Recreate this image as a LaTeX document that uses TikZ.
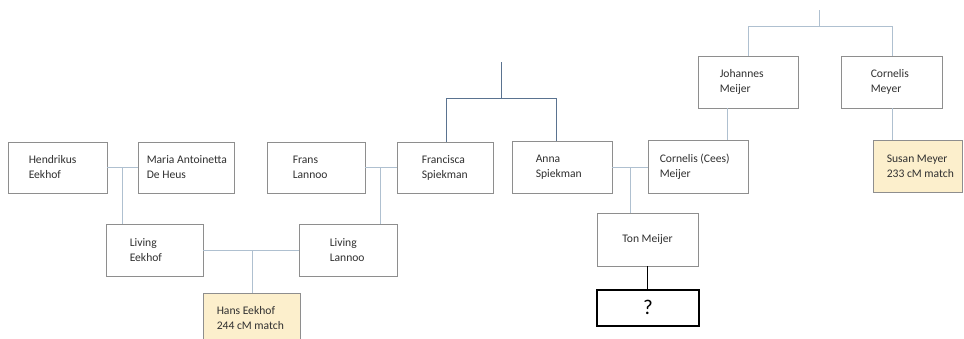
\documentclass[tikz,border=0pt]{standalone}
\usepackage{fontspec}
\setmainfont{Carlito}
\definecolor{boxline}{HTML}{8E8E8E}
\definecolor{conn}{HTML}{AFC0D0}
\definecolor{conndark}{HTML}{5A7390}
\definecolor{matchfill}{HTML}{FCEFCC}
\definecolor{txt}{HTML}{303030}
\tikzset{
  pbox/.style={draw=boxline, line width=0.9pt, fill=white, rectangle, inner sep=0pt},
  mbox/.style={pbox, fill=matchfill},
  qbox/.style={draw=black, line width=1.1pt, fill=white, rectangle, inner sep=0pt},
  ptext/.style={anchor=west, align=left, inner sep=0pt, text=txt, font=\fontsize{11.6}{15}\selectfont},
  link/.style={draw=conn, line width=0.9pt},
  linkdark/.style={draw=conndark, line width=0.9pt},
  linkblack/.style={draw=black, line width=1pt}
}
\newcommand{\pbox}[8]{%
  % #1 name, #2 style, #3 x1, #4 y1, #5 x2, #6 y2, #7 offset, #8 text
  \node[#2, minimum width={(#5-#3)*1pt}, minimum height={(#6-#4)*1pt}] (#1) at ({(#3+#5)/2},{(#4+#6)/2}) {};
  \node[ptext] (#1t) at ([xshift=#7pt]#1.west) {#8};
}
\begin{document}
\begin{tikzpicture}[x=1pt,y=-1pt]
\clip (0,0) rectangle (964,338);
\fill[white] (0,0) rectangle (964,338);

% connector joints
\coordinate (heJ) at (122,167);
\coordinate (leJ) at (252,250);
\coordinate (flJ) at (380,167);
\coordinate (asJ) at (630,167);
\coordinate (spTop) at (501,62);
\coordinate (spMid) at (501,98);
\coordinate (spL) at (446,98);
\coordinate (spR) at (556,98);
\coordinate (jmTop) at (819,10);
\coordinate (jmMid) at (819,26);
\coordinate (jmL) at (748,26);
\coordinate (jmR) at (892,26);
\coordinate (jmB) at (727,108);
\coordinate (cmB) at (892,108);
\coordinate (tmB) at (647,266);

\pbox{he}{pbox}{8}{142}{107}{193}{21}{Hendrikus\\Eekhof}
\pbox{ma}{pbox}{138}{142}{234}{193}{9}{Maria Antoinetta\\De Heus}
\pbox{fl}{pbox}{267}{142}{365}{193}{26}{Frans\\Lannoo}
\pbox{fs}{pbox}{397}{142}{493}{193}{25}{Francisca\\Spiekman}
\pbox{as}{pbox}{512}{141}{612}{193}{24}{Anna\\Spiekman}
\pbox{cc}{pbox}{648}{140}{748}{193}{12}{Cornelis (Cees)\\Meijer}
\pbox{jm}{pbox}{698}{56}{798}{108}{22}{Johannes\\Meijer}
\pbox{cm}{pbox}{841}{56}{942}{108}{30}{Cornelis\\Meyer}
\pbox{sm}{mbox}{873}{140}{962}{192}{14}{Susan Meyer\\233 cM match}
\pbox{le}{pbox}{106}{224}{203}{276}{24}{Living\\Eekhof}
\pbox{ll}{pbox}{299}{224}{397}{276}{31}{Living\\Lannoo}
\pbox{hs}{mbox}{203}{293}{300}{343}{14}{Hans Eekhof\\244 cM match}
\node[pbox, minimum width=101pt, minimum height=53pt] (tm) at (647.5,239.5) {};
\node[ptext, anchor=center] (tmt) at (tm.center) {Ton Meijer};
\node[qbox, minimum width=102pt, minimum height=36pt] (q) at (648,308) {};
\node[anchor=center, inner sep=0pt, text=black, font=\fontsize{21}{21}\selectfont] (qt) at ([yshift=1pt]q.center) {?};

% links
\draw[link] (he.east |- heJ) -- (ma.west |- heJ);
\draw[link] (heJ) -- (heJ |- le.north);
\draw[link] (le.east |- leJ) -- (ll.west |- leJ);
\draw[link] (leJ) -- (leJ |- hs.north);
\draw[link] (fl.east |- flJ) -- (fs.west |- flJ);
\draw[link] (flJ) -- (flJ |- ll.north);
\draw[link] (as.east |- asJ) -- (cc.west |- asJ);
\draw[link] (asJ) -- (asJ |- tm.north);
\draw[linkdark] (spTop) -- (spMid);
\draw[linkdark] (spL |- fs.north) -- (spL) -- (spR) -- (spR |- as.north);
\draw[link] (jmTop) -- (jmMid);
\draw[link] (jmL |- jm.north) -- (jmL) -- (jmR) -- (jmR |- cm.north);
\draw[link] (jmB) -- (jmB |- cc.north);
\draw[link] (cmB) -- (cmB |- sm.north);
\draw[linkblack] (tmB) -- (tmB |- q.north);
\end{tikzpicture}
\end{document}
